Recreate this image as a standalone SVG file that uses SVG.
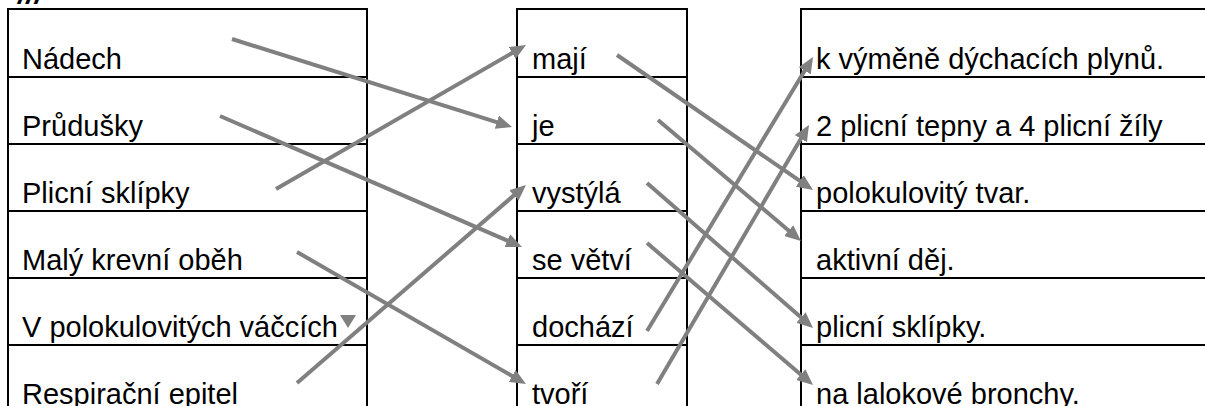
<svg xmlns="http://www.w3.org/2000/svg" width="1205" height="406" viewBox="0 0 1205 406">
<style>
.t{font-family:"Liberation Sans",Arial,sans-serif;font-size:29px;fill:#000}
.b{fill:none;stroke:#000;stroke-width:2}
.c{stroke:#808080;stroke-width:4;fill:none;marker-end:url(#ah)}
</style>
<defs>
<marker id="ah" viewBox="0 0 16 14" markerWidth="16" markerHeight="14" refX="4" refY="7" orient="auto" markerUnits="userSpaceOnUse">
<path d="M0,0 L16,7 L0,14 z" fill="#808080"/>
</marker>
</defs>
<rect width="1205" height="406" fill="#fff"/>
<text x="18" y="4" style="font-family:'Liberation Sans',Arial,sans-serif;font-size:30px;font-weight:bold;font-style:italic">///</text>
<g id="tables">
<rect class="b" x="8" y="9" width="359" height="410"/>
<rect class="b" x="517" y="9" width="170" height="410"/>
<rect class="b" x="801" y="9" width="420" height="410"/>
<path class="b" d="M8,77H367M8,144H367M8,211H367M8,278H367M8,345H367"/>
<path class="b" d="M517,77H687M517,144H687M517,211H687M517,278H687M517,345H687"/>
<path class="b" d="M801,77H1221M801,144H1221M801,211H1221M801,278H1221M801,345H1221"/>
</g>
<g id="left">
<g id="l1"><text class="t" x="22" y="69">Nádech</text></g>
<g id="l2"><text class="t" x="22" y="136">Průdušky</text></g>
<g id="l3"><text class="t" x="22" y="203">Plicní sklípky</text></g>
<g id="l4"><text class="t" x="22" y="270">Malý krevní oběh</text></g>
<g id="l5"><text class="t" x="22" y="337">V polokulovitých váčcích</text></g>
<g id="l6"><text class="t" x="22" y="404">Respirační epitel</text></g>
</g>
<g id="middle">
<g id="m1"><text class="t" x="532" y="69">mají</text></g>
<g id="m2"><text class="t" x="532" y="136">je</text></g>
<g id="m3"><text class="t" x="532" y="203">vystýlá</text></g>
<g id="m4"><text class="t" x="532" y="270">se větví</text></g>
<g id="m5"><text class="t" x="532" y="337">dochází</text></g>
<g id="m6"><text class="t" x="532" y="404">tvoří</text></g>
</g>
<g id="right">
<g id="r1"><text class="t" x="816" y="69">k výměně dýchacích plynů.</text></g>
<g id="r2"><text class="t" x="816" y="136">2 plicní tepny a 4 plicní žíly</text></g>
<g id="r3"><text class="t" x="816" y="203">polokulovitý tvar.</text></g>
<g id="r4"><text class="t" x="816" y="270">aktivní děj.</text></g>
<g id="r5"><text class="t" x="816" y="337">plicní sklípky.</text></g>
<g id="r6"><text class="t" x="816" y="404">na lalokové bronchy.</text></g>
</g>
<g id="connectors">
<path class="c" d="M232,39L500.6,123.4"/>
<path class="c" d="M220,116L511,242.2"/>
<path class="c" d="M276,189L515.6,51"/>
<path class="c" d="M297,252L515.6,378"/>
<path class="c" d="M297,383L516.9,192.8"/>
<polygon points="340,315 356,315 348,328" fill="#808080"/>
<path class="c" d="M617,55L803.1,183.2"/>
<path class="c" d="M658,120L791.8,233.2"/>
<path class="c" d="M647,183L804,320.1"/>
<path class="c" d="M647,243L803.9,377.2"/>
<path class="c" d="M647,331L806.8,67.3"/>
<path class="c" d="M657,384L802.9,135.3"/>
</g>
</svg>
